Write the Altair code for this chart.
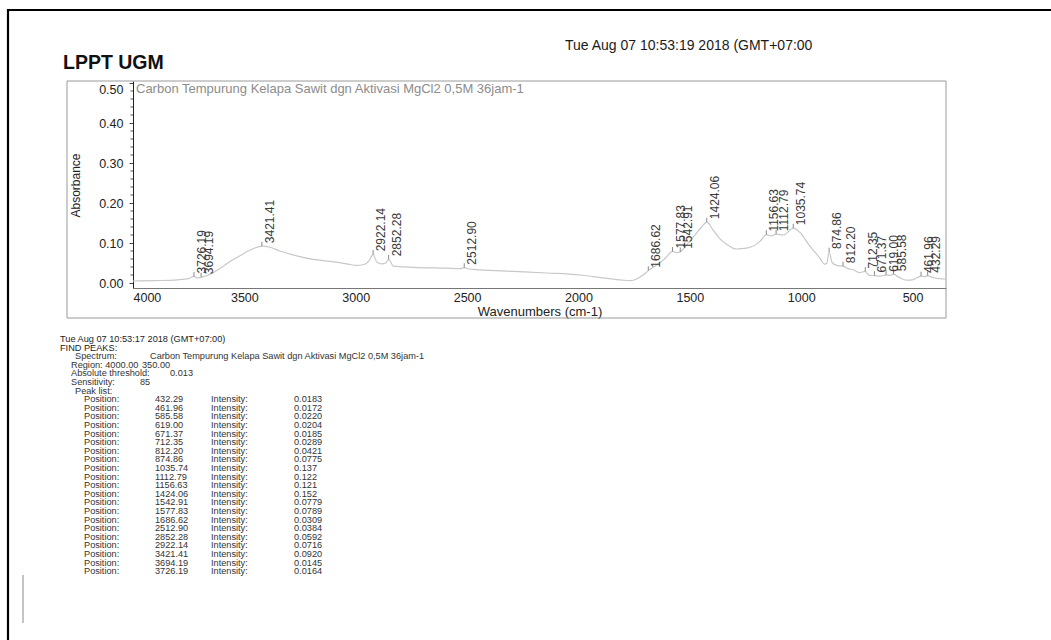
import altair as alt
import pandas as pd

# ---------------------------------------------------------------- data
# FTIR absorbance trace, wavenumber (cm-1) against absorbance
wavenumber = [4000, 3900, 3800, 3750, 3726.19, 3710, 3694.19, 3670, 3640, 3600,
              3565, 3520, 3490, 3455, 3421.41, 3390, 3340, 3265, 3190, 3116,
              3041, 2996, 2960, 2940, 2922.14, 2905, 2883, 2865, 2852.28, 2831,
              2742, 2592, 2530, 2512.90, 2495, 2443, 2293, 2143, 1993, 1933,
              1850, 1800, 1765, 1739, 1710, 1686.62, 1649, 1610, 1577.83, 1560,
              1542.91, 1515, 1485, 1447, 1424.06, 1395, 1366, 1335, 1290, 1245,
              1185, 1156.63, 1135, 1112.79, 1080, 1035.74, 1005, 961, 916, 895,
              885, 874.86, 860, 841, 812.20, 790, 766, 740, 712.35, 700,
              691, 671.37, 646, 619.00, 600, 585.58, 560, 527, 500, 480,
              461.96, 445, 432.29, 410, 380, 350]
absorbance = [0.005, 0.006, 0.008, 0.011, 0.0164, 0.0125, 0.0145, 0.018, 0.026, 0.040,
              0.054, 0.068, 0.078, 0.087, 0.092, 0.090, 0.080, 0.068, 0.059, 0.054,
              0.048, 0.044, 0.047, 0.056, 0.0716, 0.052, 0.048, 0.050, 0.0592, 0.042,
              0.039, 0.037, 0.036, 0.0384, 0.035, 0.033, 0.029, 0.025, 0.020, 0.016,
              0.010, 0.007, 0.006, 0.010, 0.020, 0.0309, 0.045, 0.062, 0.0789, 0.076,
              0.0779, 0.095, 0.115, 0.140, 0.152, 0.132, 0.111, 0.097, 0.085, 0.087,
              0.104, 0.121, 0.118, 0.122, 0.120, 0.137, 0.126, 0.092, 0.062, 0.047,
              0.050, 0.0775, 0.050, 0.044, 0.0421, 0.036, 0.033, 0.026, 0.0289, 0.021,
              0.019, 0.0185, 0.017, 0.0204, 0.019, 0.0220, 0.014, 0.007, 0.008, 0.013,
              0.0172, 0.016, 0.0183, 0.014, 0.011, 0.010]

# peak list
peak_position = [432.29, 461.96, 585.58, 619.00, 671.37, 712.35, 812.20, 874.86,
                 1035.74, 1112.79, 1156.63, 1424.06, 1542.91, 1577.83, 1686.62,
                 2512.90, 2852.28, 2922.14, 3421.41, 3694.19, 3726.19]
peak_intensity = [0.0183, 0.0172, 0.0220, 0.0204, 0.0185, 0.0289, 0.0421, 0.0775,
                  0.137, 0.122, 0.121, 0.152, 0.0779, 0.0789, 0.0309,
                  0.0384, 0.0592, 0.0716, 0.0920, 0.0145, 0.0164]

x_ticks = [4000, 3500, 3000, 2500, 2000, 1500, 1000, 500]
y_ticks = [0.0, 0.1, 0.2, 0.3, 0.4, 0.5]
y_minor = [0.02, 0.04, 0.06, 0.08, 0.12, 0.14, 0.16, 0.18, 0.22, 0.24,
           0.26, 0.28, 0.32, 0.34, 0.36, 0.38, 0.42, 0.44, 0.46, 0.48]

lab_name = "LPPT UGM"
print_stamp = "Tue Aug 07 10:53:19 2018 (GMT+07:00"
sample_name = "Carbon Tempurung Kelapa Sawit dgn Aktivasi MgCl2 0,5M 36jam-1"
report_lines = ["Tue Aug 07 10:53:17 2018 (GMT+07:00)", "FIND PEAKS:", "Spectrum:",
                "Region: 4000.00", "Absolute threshold:", "Sensitivity:", "Peak list:"]
region_end = "350.00"
threshold = "0.013"
sensitivity = "85"

# ---------------------------------------------------------------- layout
W, H = 813, 207
LEFT, TOP = 133, 81
FONT = "Liberation Sans"
INK = "#222222"


def px(x):
    return x - LEFT


def py(y):
    return y - TOP


anchor = pd.DataFrame({"k": [0]})

x_scale = alt.Scale(domain=[350, 4000], reverse=True, nice=False, zero=False)
y_scale = alt.Scale(domain=[-0.0125, 0.505], nice=False, zero=False)

spec_df = pd.DataFrame({"wn": wavenumber, "abs": absorbance})
peak_df = pd.DataFrame({"pos": peak_position, "inten": peak_intensity})
minor_df = pd.DataFrame({"v": y_minor})

x_axis = alt.Axis(values=x_ticks, format="d", ticks=False, labelPadding=3,
                  labelFontSize=12.5, labelColor=INK, domainColor="#777777",
                  grid=False, title="Wavenumbers (cm-1)", titleFontSize=13,
                  titleFontWeight="normal", titleColor=INK, titleY=23,
                  titleBaseline="middle")
y_axis = alt.Axis(values=y_ticks, format=".2f", tickSize=4, tickColor="#444444",
                  labelPadding=6, labelFontSize=12.5, labelColor=INK, labelFlush=3,
                  domainColor="#222222", grid=False, title="Absorbance",
                  titleFontSize=12, titleFontWeight="normal", titleColor=INK,
                  titleAngle=270, titleX=-58, titleY=104, titleBaseline="middle",
                  titleAlign="center")

spectrum = alt.Chart(spec_df).mark_line(
    color="#c8c8c8", strokeWidth=1.2, interpolate="monotone"
).encode(
    x=alt.X("wn:Q", scale=x_scale, axis=x_axis),
    y=alt.Y("abs:Q", scale=y_scale, axis=y_axis),
)

minor_ticks = alt.Chart(minor_df).mark_rule(color="#555555", strokeWidth=1).encode(
    x=alt.value(-2.5), x2=alt.value(0),
    y=alt.Y("v:Q", scale=y_scale),
)

peak_marks = alt.Chart(peak_df).transform_calculate(
    top="datum.inten + 0.011"
).mark_rule(color="#8a8a8a", strokeWidth=1).encode(
    x=alt.X("pos:Q", scale=x_scale),
    y=alt.Y("inten:Q", scale=y_scale),
    y2="top:Q",
)

peak_labels = alt.Chart(peak_df).mark_text(
    angle=270, align="left", baseline="middle", dx=3, dy=8,
    fontSize=12, color="#3a3a3a", font=FONT
).encode(
    x=alt.X("pos:Q", scale=x_scale),
    y=alt.Y("inten:Q", scale=y_scale),
    text=alt.Text("pos:Q", format=".2f"),
)

sample_title = alt.Chart(anchor).mark_text(
    align="left", baseline="middle", fontSize=13, color="#8c8c8c", font=FONT
).encode(x=alt.value(3), y=alt.value(8), text=alt.value(sample_name))

plot = alt.layer(spectrum, minor_ticks, peak_marks, peak_labels, sample_title)

# ---------------------------------------------------------------- report text
row_scale = alt.Scale(domain=[0, 27], range=[py(339), py(339) + 27 * 8.6])
TABLE_SIZE = 9.2


def row_text(df, text, x, color="#333333"):
    return alt.Chart(df).mark_text(
        align="left", baseline="middle", fontSize=TABLE_SIZE, color=color, font=FONT
    ).encode(
        x=alt.value(px(x)),
        y=alt.Y("row:Q", scale=row_scale, axis=None),
        text=text,
    )


def line_df(rows, texts):
    return pd.DataFrame({"row": rows, "t": texts})


report = [
    row_text(line_df([0, 1], report_lines[0:2]), "t:N", 60, "#222222"),
    row_text(line_df([2, 6], [report_lines[2], report_lines[6]]), "t:N", 75),
    row_text(line_df([3, 4, 5], report_lines[3:6]), "t:N", 71),
    row_text(line_df([2], [sample_name]), "t:N", 150),
    row_text(line_df([3], [region_end]), "t:N", 142),
    row_text(line_df([4], [threshold]), "t:N", 170),
    row_text(line_df([5], [sensitivity]), "t:N", 140),
]

table_df = pd.DataFrame({
    "row": list(range(7, 7 + len(peak_position))),
    "pos": peak_position,
    "inten": peak_intensity,
})
report += [
    row_text(table_df, alt.value("Position:"), 84),
    row_text(table_df, alt.Text("pos:Q", format=".2f"), 155),
    row_text(table_df, alt.value("Intensity:"), 211),
    row_text(table_df, alt.Text("inten:Q", format=".3r"), 294),
]
table = alt.layer(*report)

# ---------------------------------------------------------------- page furniture
frame = alt.Chart(anchor).mark_rect(
    fillOpacity=0, stroke="#9a9a9a", strokeWidth=1
).encode(x=alt.value(px(67)), x2=alt.value(W), y=alt.value(0), y2=alt.value(py(318)))

page_top = alt.Chart(anchor).mark_rule(color="#000000", strokeWidth=2.2).encode(
    x=alt.value(px(7)), x2=alt.value(px(1051)), y=alt.value(py(10)))
page_left = alt.Chart(anchor).mark_rule(color="#000000", strokeWidth=2.2).encode(
    x=alt.value(px(8)), y=alt.value(py(9)), y2=alt.value(py(640)))
margin_mark = alt.Chart(anchor).mark_rule(color="#8a8a8a", strokeWidth=1).encode(
    x=alt.value(px(23)), y=alt.value(py(575)), y2=alt.value(py(623)))

lab_text = alt.Chart(anchor).mark_text(
    align="left", baseline="middle", fontSize=19.5, fontWeight="bold",
    color="#111111", font=FONT
).encode(x=alt.value(px(63)), y=alt.value(py(63)), text=alt.value(lab_name))

stamp_text = alt.Chart(anchor).mark_text(
    align="left", baseline="middle", fontSize=14, color="#1a1a1a", font=FONT
).encode(x=alt.value(px(565)), y=alt.value(py(46)), text=alt.value(print_stamp))

chart = alt.layer(
    frame, plot, table, page_top, page_left, margin_mark, lab_text, stamp_text
).resolve_scale(
    x="independent", y="independent"
).properties(
    width=W, height=H,
    autosize=alt.AutoSizeParams(type="none"),
    padding={"left": LEFT, "top": TOP, "right": 1051 - LEFT - W, "bottom": 640 - TOP - H},
    background="#ffffff",
).configure(font=FONT).configure_view(stroke=None)

chart.save("out.html", embed_options={"renderer": "svg", "actions": False})
